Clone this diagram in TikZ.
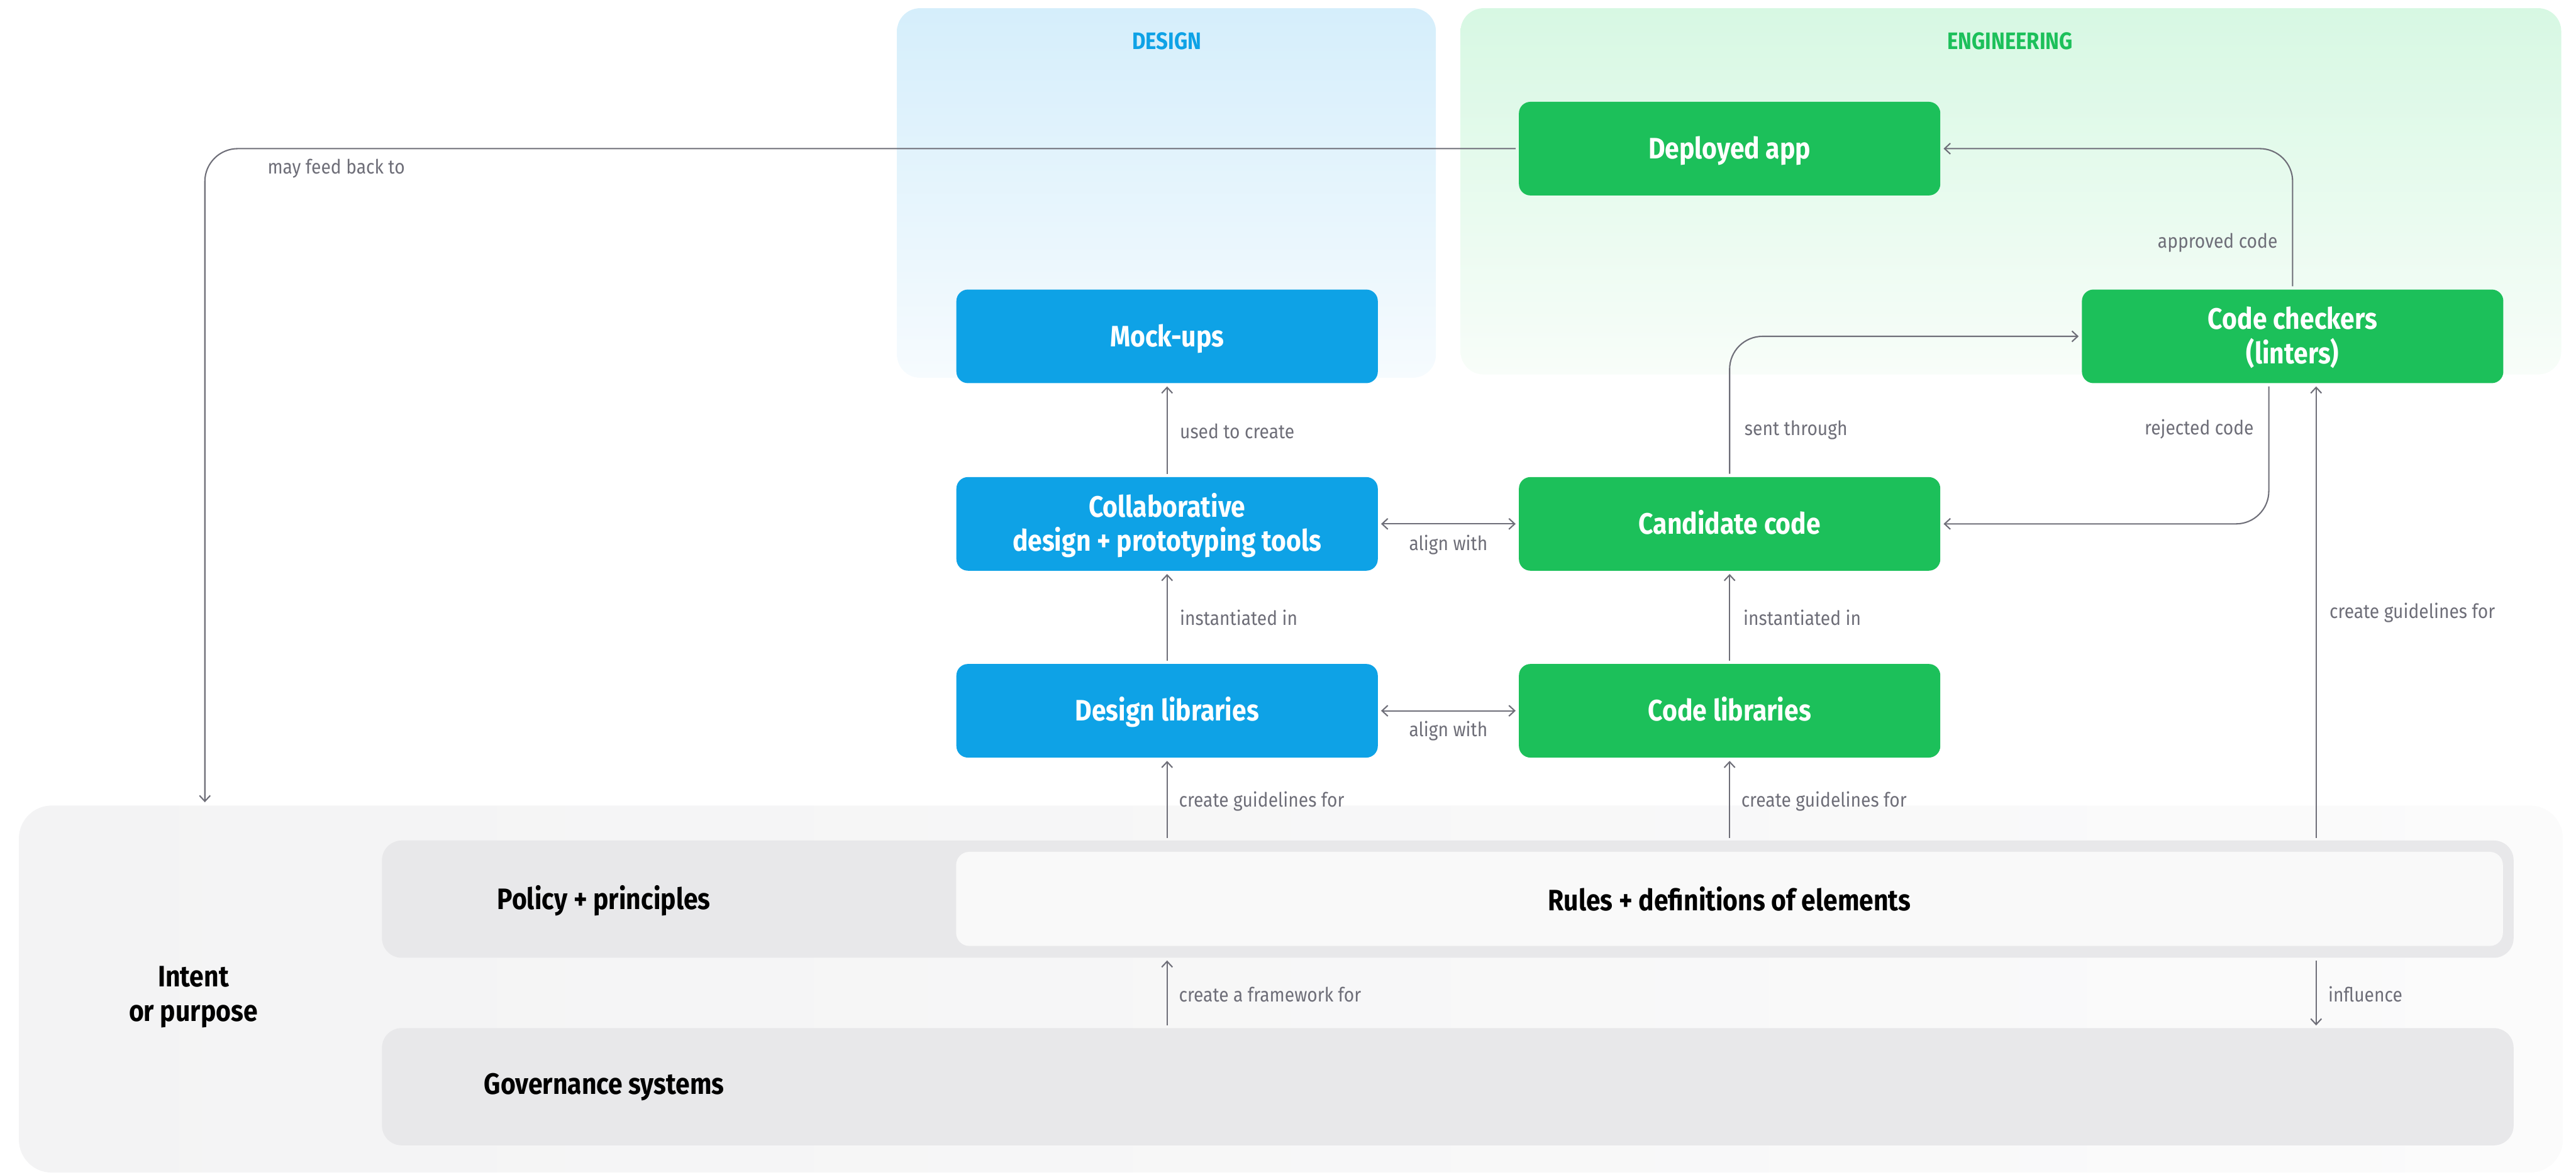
\documentclass[tikz,border=0pt]{standalone}
\usepackage{fontspec}
\setmainfont{Fira Sans}[FakeStretch=0.87]
\newfontfamily\lblfont{Fira Sans}[FakeStretch=0.9]
\usetikzlibrary{arrows.meta,calc}
\definecolor{dblue}{HTML}{0EA2E6}
\definecolor{egreen}{HTML}{1CC05A}
\definecolor{linegray}{HTML}{6E6E78}
\definecolor{bandgray}{HTML}{E8E8EA}
\definecolor{rulesfill}{HTML}{F9F9F9}
\definecolor{dpanel}{HTML}{D5EEFB}
\definecolor{dpanelb}{HTML}{F6FBFE}
\definecolor{epanel}{HTML}{D7F8E3}
\definecolor{epanelb}{HTML}{F8FDF9}
\definecolor{outerl}{HTML}{F3F3F4}
\definecolor{outerr}{HTML}{FBFBFB}
\tikzset{
  box/.style={rectangle, rounded corners=7pt, minimum width=256.5pt, minimum height=57pt,
    text=white, font=\bfseries\fontsize{18}{21}\selectfont, align=center, outer sep=2pt, inner sep=0pt,
    text height=12.4pt, text depth=0pt},
  twoline/.style={text height=33.4pt, text depth=0pt},
  bluebox/.style={box, fill=dblue},
  greenbox/.style={box, fill=egreen},
  band/.style={rectangle, rounded corners=12pt, fill=bandgray, minimum width=1297.5pt, minimum height=71.4pt, outer sep=1.6pt, inner sep=0pt},
  blacktext/.style={text=black, font=\bfseries\fontsize{18}{21}\selectfont, align=center, inner sep=0pt},
  conn/.style={draw=linegray, line width=0.8pt},
  arr/.style={conn, -{Straight Barb[length=3.5pt,width=6.5pt]}},
  darr/.style={conn, {Straight Barb[length=3.5pt,width=6.5pt]}-{Straight Barb[length=3.5pt,width=6.5pt]}},
  lbl/.style={text=linegray, font=\lblfont\fontsize{12}{14}\selectfont, inner sep=0pt},
  header/.style={font=\bfseries\fontsize{14.5}{16}\selectfont, inner sep=0pt},
}
\begin{document}
\begin{tikzpicture}[x=1pt,y=-1pt]
\useasboundingbox (0,0) rectangle (1568,715.4);
% panels
\shade[top color=dpanel, bottom color=dpanelb, rounded corners=14pt] (546,5) rectangle (874,230);
\shade[top color=epanel, bottom color=epanelb, rounded corners=14pt] (889,5) rectangle (1559,228);
\node[header, text=dblue] (hdesign) at (710.3,25) {DESIGN};
\node[header, text=egreen] (heng) at (1223.5,25) {ENGINEERING};
% intent outer box
\shade[left color=outerl, right color=outerr, rounded corners=20pt] (11.5,490.5) rectangle (1560,714);
\node[blacktext] (intent) at (117.7,607) {Intent\\or purpose};
% bands
\node[band] (policy) at (881.25,547.5) {};
\node[blacktext] (policytxt) at (367.5,548.5) {Policy + principles};
\node[rectangle, rounded corners=8pt, fill=rulesfill, minimum width=941.5pt, minimum height=57.3pt, inner sep=0pt, text=black, font=\bfseries\fontsize{18}{21}\selectfont] (rules) at (1052.75,547.35) {Rules + definitions of elements};
\node[band] (gov) at (881.25,661.7) {};
\node[blacktext] (govtxt) at (367.7,662) {Governance systems};
% boxes
\node[greenbox] (deploy) at (1052.8,90.5) {Deployed app};
\node[bluebox] (mock) at (710.4,204.8) {Mock-ups};
\node[greenbox, twoline] (checkers) at (1395.5,204.8) {Code checkers\\(linters)};
\node[bluebox, twoline] (collab) at (710.4,319) {Collaborative\\design + prototyping tools};
\node[greenbox] (candidate) at (1052.8,319) {Candidate code};
\node[bluebox] (dlib) at (710.4,432.8) {Design libraries};
\node[greenbox] (clib) at (1052.8,432.8) {Code libraries};
% coordinates
\coordinate (fb) at (124.7,488.5);
\coordinate (g3) at (1409.8,0);
\coordinate (rj) at (1381,0);
% connectors
\draw[arr, rounded corners=20pt] (deploy.west) -| (fb);
\node[lbl, anchor=west] (lfb) at (162.7,102.6) {may feed back to};
\draw[arr, rounded corners=20pt] (checkers.north) |- (deploy.east);
\node[lbl, anchor=east] (lap) at (1386.5,147.9) {approved code};
\draw[arr, rounded corners=20pt] (candidate.north) |- (checkers.west);
\node[lbl, anchor=west] (lst) at (1061.7,262) {sent through};
\draw[arr, rounded corners=20pt] (checkers.south -| rj) |- (candidate.east);
\node[lbl, anchor=east] (lrj) at (1372,261.3) {rejected code};
\draw[arr] (policy.north -| g3) -- (checkers.south -| g3);
\node[lbl, anchor=west] (lg3) at (1417.8,373) {create guidelines for};
\draw[arr] (collab.north) -- (mock.south);
\node[lbl, anchor=west] (luc) at (718,262.7) {used to create};
\draw[darr] (collab.east) -- (candidate.west);
\node[lbl] (la1) at (881.6,331.7) {align with};
\draw[arr] (dlib.north) -- (collab.south);
\node[lbl, anchor=west] (li1) at (718,376) {instantiated in};
\draw[arr] (clib.north) -- (candidate.south);
\node[lbl, anchor=west] (li2) at (1061,376) {instantiated in};
\draw[darr] (dlib.east) -- (clib.west);
\node[lbl] (la2) at (881.6,445) {align with};
\draw[arr] (policy.north -| dlib) -- (dlib.south);
\node[lbl, anchor=west] (lg1) at (717.4,487.9) {create guidelines for};
\draw[arr] (policy.north -| clib) -- (clib.south);
\node[lbl, anchor=west] (lg2) at (1059.7,487.9) {create guidelines for};
\draw[arr] (gov.north -| dlib) -- (policy.south -| dlib);
\node[lbl, anchor=west] (lfw) at (717.4,605.5) {create a framework for};
\draw[arr] (policy.south -| g3) -- (gov.north -| g3);
\node[lbl, anchor=west] (linf) at (1417,605.5) {influence};
\end{tikzpicture}
\end{document}
